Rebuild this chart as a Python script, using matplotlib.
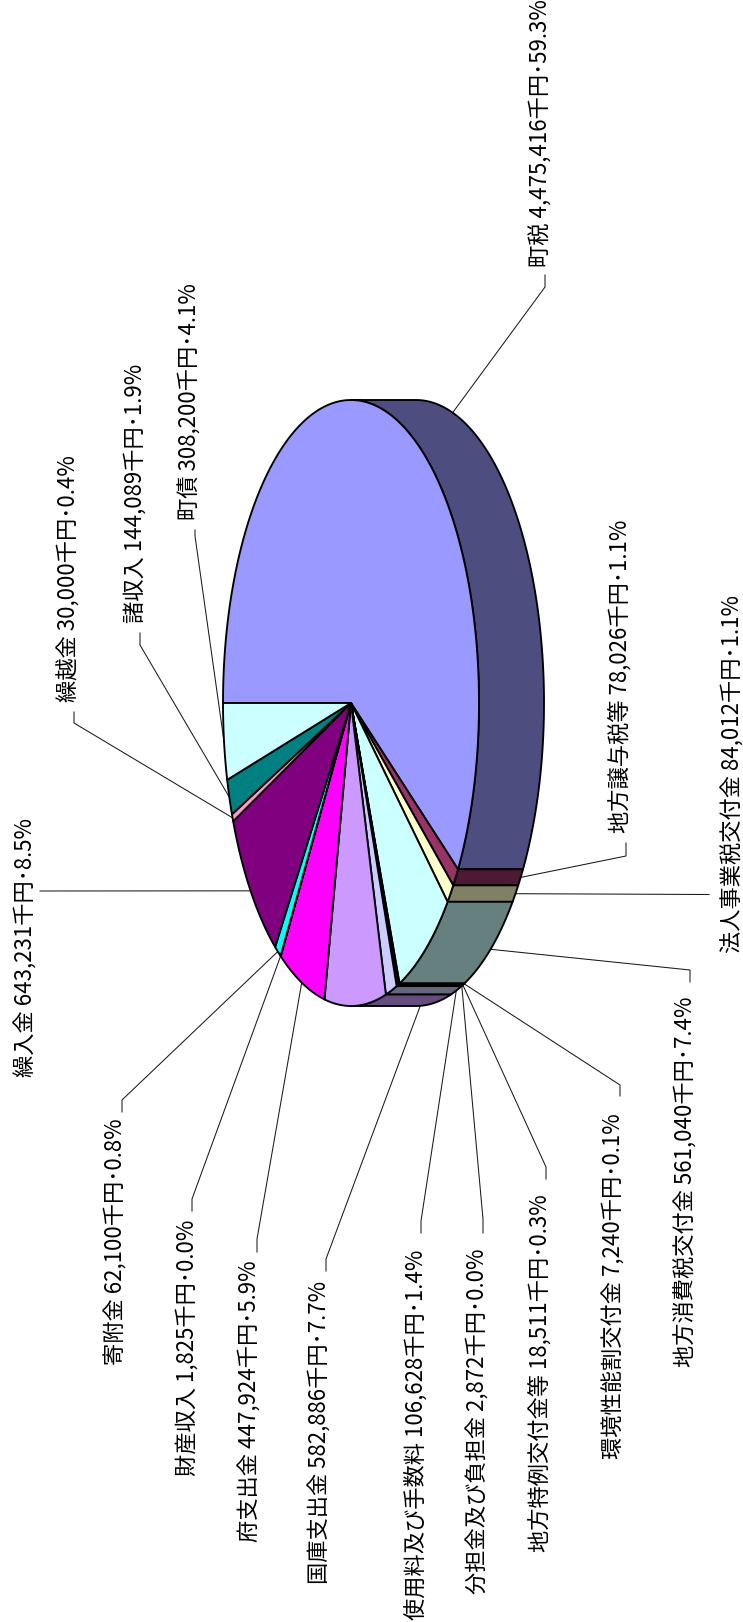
import numpy as np
import matplotlib
matplotlib.use("Agg")
import matplotlib.pyplot as plt
from matplotlib.patches import Polygon

names = ["町税", "地方譲与税等", "法人事業税交付金", "地方消費税交付金", "環境性能割交付金",
         "地方特例交付金等", "分担金及び負担金", "使用料及び手数料", "国庫支出金", "府支出金",
         "財産収入", "寄附金", "繰入金", "繰越金", "諸収入", "町債"]
values = [4475416, 78026, 84012, 561040, 7240, 18511, 2872, 106628,
          582886, 447924, 1825, 62100, 643231, 30000, 144089, 308200]
percents = ["59.3", "1.1", "1.1", "7.4", "0.1", "0.3", "0.0", "1.4",
            "7.7", "5.9", "0.0", "0.8", "8.5", "0.4", "1.9", "4.1"]
colors = ["#9999FF", "#993366", "#FFFFCC", "#CCFFFF", "#660066", "#FF8080", "#0066CC", "#CCCCFF",
          "#CC99FF", "#FF00FF", "#FFFF00", "#00FFFF", "#800080", "#FF99CC", "#008080", "#CCFFFF"]

# label placement: centre x of the rotated text, lower end of the text
label_x = [540.5, 620.5, 733, 686, 614.5, 541, 478.5, 416,
           320.5, 250.5, 187, 116.5, 26, 68.5, 135.5, 190.5]
label_bottom = [267, 833, 953, 1367, 1459, 1552, 1594, 1620,
                1584, 1542, 1476, 1365, 1077, 702, 623, 520]
# leader elbows and ends
elbow = [(545, 287), (626, 856), None, (690, 970), (620, 1085), (546, 1167), (483, 1219), (421, 1221),
         (326, 1259), (257, 1239), (192, 1199), (122, 1100), None, (74, 723), (140, 645), (195, 536)]
leader_end = [(545, 275), (626, 843), (709, 894.5), (690, 982), (620, 1096), (546, 1179), (483, 1233), (421, 1233),
              (326, 1271), (257, 1252), (192, 1211), (122, 1112), (40, 891), (74, 712), (140, 633), (195, 530)]

CX, CY, RX, RY, DEPTH = 351, 703, 128, 303, 65
START = 180.0
EDGE = 1.35

plt.rcParams["font.family"] = ["Noto Sans CJK JP", "DejaVu Sans"]


def pt(a, dx=0.0):
    r = np.radians(a)
    return np.column_stack([CX + RX * np.cos(r) + dx, CY + RY * np.sin(r)])


def shade(hex_color):
    rgb = np.array(matplotlib.colors.to_rgb(hex_color))
    return tuple(rgb * 0.5)


fig = plt.figure(figsize=(7.43, 16.22), dpi=100)
ax = fig.add_axes([0, 0, 1, 1])
ax.set_xlim(0, 743)
ax.set_ylim(1622, 0)
ax.axis("off")

v = np.array(values, dtype=float)
edges = START + 360.0 * np.concatenate([[0], np.cumsum(v)]) / v.sum()

# side wall (visible for the right half of the ellipse)
for i, col in enumerate(colors):
    a0, a1 = max(edges[i], 270.0), min(edges[i + 1], 450.0)
    if a1 <= a0:
        continue
    arc = np.linspace(a0, a1, max(int((a1 - a0) * 2), 2))
    poly = np.vstack([pt(arc), pt(arc[::-1], DEPTH)])
    ax.add_patch(Polygon(poly, closed=True, facecolor=shade(col), edgecolor="black",
                         linewidth=EDGE, joinstyle="round", zorder=2))

# top face
for i, col in enumerate(colors):
    a0, a1 = edges[i], edges[i + 1]
    arc = np.linspace(a0, a1, max(int((a1 - a0) * 2), 2))
    poly = np.vstack([[[CX, CY]], pt(arc)])
    ax.add_patch(Polygon(poly, closed=True, facecolor=col, edgecolor="black",
                         linewidth=EDGE, joinstyle="round", zorder=3))

# leaders and labels
for i, name in enumerate(names):
    mid = (edges[i] + edges[i + 1]) / 2
    on_side = 270 <= mid <= 450
    anchor = pt(np.array([mid]), DEPTH if on_side else 0.0)[0]
    pts = [tuple(anchor)]
    if elbow[i] is not None:
        pts.append(elbow[i])
    pts.append(leader_end[i])
    xs, ys = zip(*pts)
    ax.plot(xs, ys, color="#1a1a1a", lw=0.75, zorder=1, solid_joinstyle="miter")
    txt = f"{name} {values[i]:,}千円･{percents[i]}%"
    ax.text(label_x[i], label_bottom[i], txt, rotation=90, ha="center", va="bottom",
            fontsize=16, color="black", zorder=4)

fig.savefig("out.png", dpi=100, facecolor="white")
